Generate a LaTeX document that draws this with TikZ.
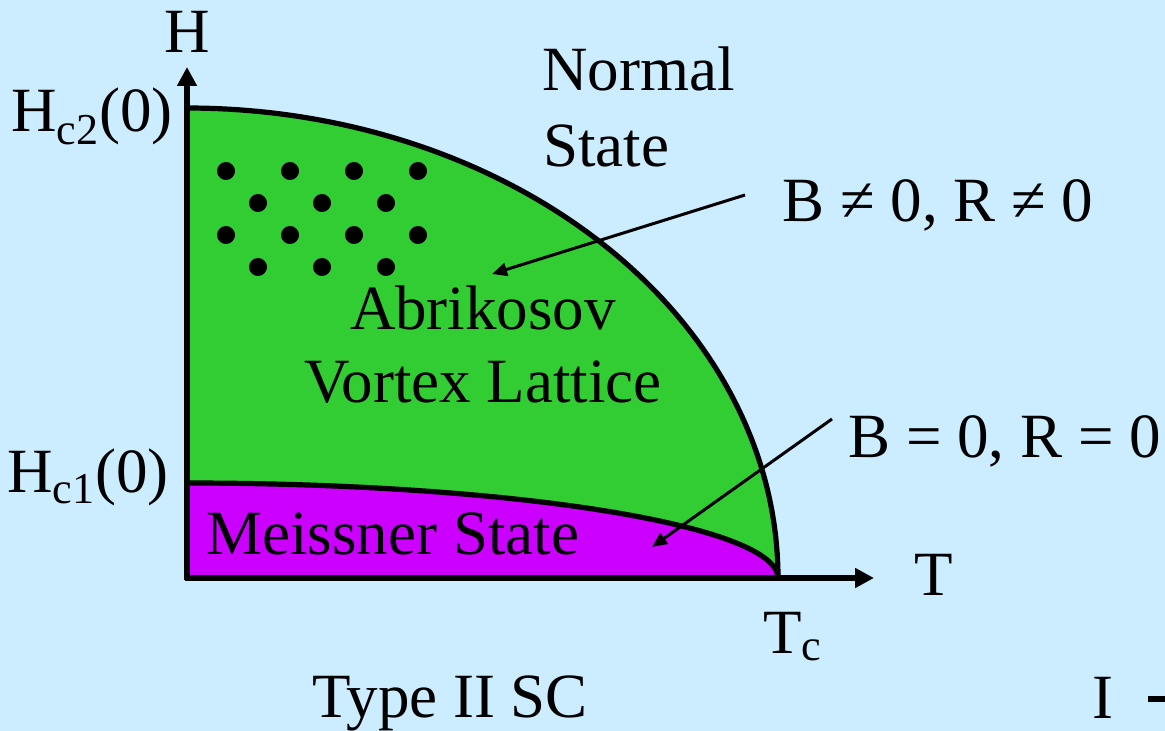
\documentclass[tikz,border=0pt]{standalone}
\usepackage{fontspec}
\setmainfont{Liberation Serif}
\newfontfamily\diagfont{Liberation Serif}
\usetikzlibrary{positioning,arrows.meta}
\definecolor{bgblue}{RGB}{204,236,255}
\definecolor{vortexgreen}{RGB}{50,205,50}
\definecolor{meissnerpurple}{RGB}{204,0,255}

\begin{document}
\begin{tikzpicture}[x=0.5pt, y=-0.5pt,
  every node/.style={inner sep=0pt, font=\diagfont\fontsize{31.5}{38}\selectfont},
  axis/.style={line width=2.6pt, -{Triangle[length=9.5pt,width=9.5pt]}},
  boundary/.style={line width=2.6pt},
  pointer/.style={line width=1.5pt, -{Triangle[length=7.5pt,width=6.5pt]}},
  vortex/.style={fill=black, circle, minimum size=9pt}]

% Background
\fill[bgblue] (0,0) rectangle (1165,731);
\useasboundingbox (0,0) rectangle (1165,731);

% Phase regions
\fill[vortexgreen] (187,578) -- plot[domain=90:0, samples=90] ({187+591*cos(\x)}, {578-470*sin(\x)}) -- cycle;
\fill[meissnerpurple] (187,578) -- plot[domain=90:0, samples=90] ({187+591*cos(\x)}, {578-95*sin(\x)}) -- cycle;

% Critical field lines
\draw[boundary] plot[domain=90:0, samples=90] ({187+591*cos(\x)}, {578-470*sin(\x)});
\draw[boundary] plot[domain=90:0, samples=90] ({187+591*cos(\x)}, {578-95*sin(\x)});

% Axes
\coordinate (O) at (187,580);
\coordinate (Htip) at (187,67);
\coordinate (Ttip) at (874,578);
\draw[axis] (O) -- (Htip);
\draw[axis] (185,578) -- (Ttip);

% Axis labels
\node[anchor=base] (H) at (187,53) {H};
\node[anchor=base west] (T) at (914,595) {T};
\node[anchor=base west] (Tc) at (763,653) {T\textsubscript{c}};
\node[anchor=base east] (Hc2) at (173,132) {H\textsubscript{c2}(0)};
\node[anchor=base east] (Hc1) at (169,492) {H\textsubscript{c1}(0)};

% Vortex lattice
\foreach \x in {226,290,354,418} {
    \foreach \y in {171,235} {
        \node[vortex] (v-\x-\y) at (\x,\y) {};
    }
}
\foreach \x in {258,322,386} {
    \foreach \y in {203,267} {
        \node[vortex] (v-\x-\y) at (\x,\y) {};
    }
}

% Region labels
\node[anchor=base west] (normal) at (542,91) {Normal};
\node[anchor=base west] (normalb) at (543,167) {State};
\node[anchor=base] (abrik) at (483,330) {Abrikosov};
\node[anchor=base] (lattice) at (483,402) {Vortex Lattice};
\node[anchor=base west] (meissner) at (206,554) {Meissner State};
\node[anchor=base west] (typeII) at (312,717) {Type II SC};

% Field / resistance labels
\node[anchor=base west] (Bne) at (782,222) {B ≠ 0, R ≠ 0};
\node[anchor=base west] (Beq) at (848,457) {B = 0, R = 0};

% Pointers
\coordinate (p1start) at (745,195);
\coordinate (p1end) at (492,274);
\coordinate (p2start) at (832,419);
\coordinate (p2end) at (652,547);
\draw[pointer] (p1start) -- (p1end);
\draw[pointer] (p2start) -- (p2end);

% Cut-off text at the right edge
\node[anchor=base west] (I) at (1092,718) {I};
\fill (1148,696) rectangle (1170,702);

\end{tikzpicture}
\end{document}
